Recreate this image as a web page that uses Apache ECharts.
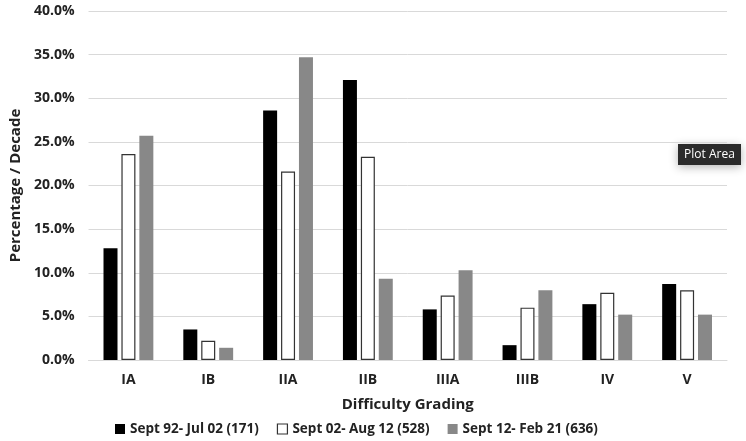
<!DOCTYPE html>
<html><head><meta charset="utf-8">
<script src="https://cdn.jsdelivr.net/npm/echarts@6/dist/echarts.min.js"></script>
<style>html,body{margin:0;padding:0;background:#fff}#c{width:746px;height:441px}</style>
</head><body><div id="c"></div>
<script>
const categories = ['IA','IB','IIA','IIB','IIIA','IIIB','IV','V'];
const seriesNames = ['Sept 92- Jul 02 (171)','Sept 02- Aug 12 (528)','Sept 12- Feb 21 (636)'];
const s1 = [12.8, 3.5, 28.6, 32.1, 5.8, 1.7, 6.4, 8.7];
const s2 = [23.6, 2.2, 21.6, 23.3, 7.4, 6.0, 7.7, 8.0];
const s3 = [25.7, 1.4, 34.7, 9.3, 10.3, 8.0, 5.2, 5.2];
const yTicks = {min:0, max:40, interval:5};

const font = 'Open Sans';
const chart = echarts.init(document.getElementById('c'));
const styles = [
  {color:'#000000', borderColor:'#000000', borderWidth:0},
  {color:'#ffffff', borderColor:'#333333', borderWidth:1.2},
  {color:'#888888', borderColor:'#888888', borderWidth:0}
];
const data = [s1,s2,s3];
chart.setOption({
  animation:false,
  textStyle:{fontFamily:font},
  grid:{left:84, right:19, top:11, bottom:81, containLabel:false},
  legend:{
    bottom:0, left:110, itemWidth:10, itemHeight:10, itemGap:18,
    textStyle:{fontFamily:font, fontWeight:'bold', fontSize:13.5, color:'#222'},
    data: seriesNames.map((n,i)=>({name:n, icon:'rect', itemStyle:styles[i]}))
  },
  xAxis:{
    type:'category', data:categories,
    name:'Difficulty Grading', nameLocation:'middle', nameGap:37,
    nameTextStyle:{fontFamily:font, fontWeight:'bold', fontSize:15, color:'#222'},
    axisLine:{show:true, lineStyle:{color:'#d9d9d9', width:1}},
    axisTick:{show:false},
    axisLabel:{fontFamily:font, fontWeight:'bold', fontSize:14, color:'#222', margin:13}
  },
  yAxis:{
    type:'value', min:yTicks.min, max:yTicks.max, interval:yTicks.interval,
    name:'Percentage / Decade', nameLocation:'middle', nameGap:64, nameRotate:90,
    nameTextStyle:{fontFamily:font, fontWeight:'bold', fontSize:15, color:'#222'},
    axisLine:{show:false}, axisTick:{show:false},
    splitLine:{lineStyle:{color:'#d9d9d9', width:1}},
    axisLabel:{fontFamily:font, fontWeight:'bold', fontSize:14, color:'#222', margin:14,
      formatter: v => v.toFixed(1) + '%'}
  },
  series: seriesNames.map((n,i)=>({
    name:n, type:'bar', data:data[i], barWidth:14, barGap:'28%',
    itemStyle:styles[i]
  })),
  graphic:[{
    type:'group', x:678, y:144,
    children:[
      {type:'rect', shape:{x:0,y:0,width:63,height:21},
       style:{fill:'#2b2b2b', shadowBlur:10, shadowColor:'rgba(0,0,0,0.3)', shadowOffsetY:2}},
      {type:'text', x:31.5, y:10.5,
       style:{text:'Plot Area', fill:'#fff', font:'12px "Open Sans"', align:'center', verticalAlign:'middle'}}
    ]
  }]
});
</script></body></html>
